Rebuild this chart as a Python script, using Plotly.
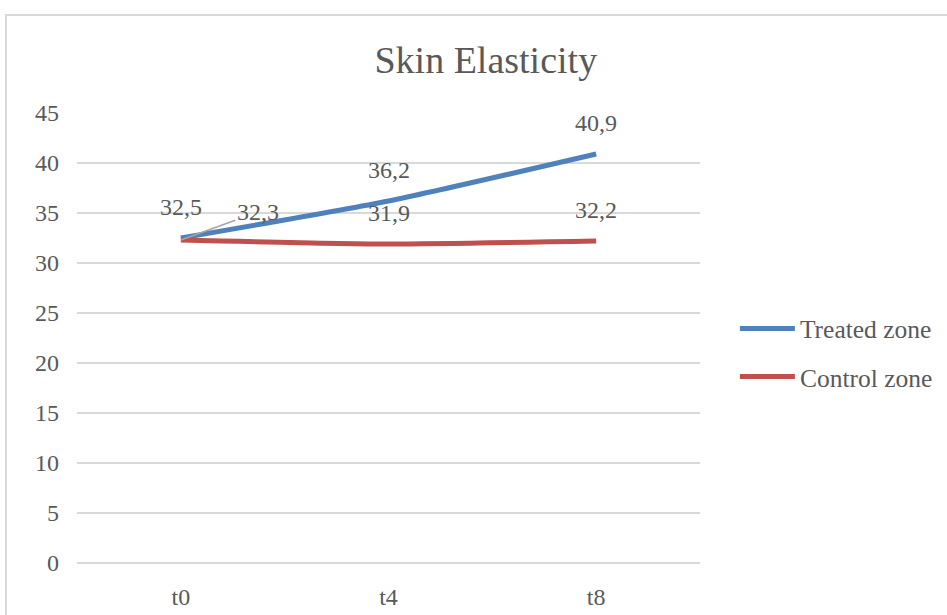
import plotly.graph_objects as go

categories = ["t0", "t4", "t8"]
treated = [32.5, 36.2, 40.9]
control = [32.3, 31.9, 32.2]
y_ticks = [0, 5, 10, 15, 20, 25, 30, 35, 40, 45]

BLUE = "#4F81BD"
RED = "#C0504D"
TXT = "#595959"
GRID = "#D9D9D9"
FONT = "Liberation Serif"


def fmt(v):
    return f"{v:.1f}".replace(".", ",")


fig = go.Figure()
fig.add_trace(go.Scatter(x=categories, y=treated, mode="lines", name="Treated zone",
                         line=dict(color=BLUE, width=5, shape="spline", smoothing=0.6),
                         legendgroup="a"))
fig.add_trace(go.Scatter(x=categories, y=control, mode="lines", name="Control zone",
                         line=dict(color=RED, width=5, shape="spline", smoothing=0.6),
                         legendgroup="b"))

annotations = []
for c, v in zip(categories, treated):
    annotations.append(dict(x=c, y=v, xref="x", yref="y", text=fmt(v), showarrow=False,
                            yshift=31, font=dict(family=FONT, size=24, color=TXT)))
for i, (c, v) in enumerate(zip(categories, control)):
    if i == 0:
        annotations.append(dict(x=c, y=v, xref="x", yref="y", text=fmt(v), showarrow=True,
                                ax=77, ay=-28, arrowhead=0, arrowwidth=1.5, arrowcolor="#A6A6A6",
                                standoff=0, font=dict(family=FONT, size=24, color=TXT)))
    else:
        annotations.append(dict(x=c, y=v, xref="x", yref="y", text=fmt(v), showarrow=False,
                                yshift=31, font=dict(family=FONT, size=24, color=TXT)))

fig.update_layout(
    width=947, height=615,
    margin=dict(l=77, r=247, t=113, b=52, autoexpand=False),
    paper_bgcolor="white", plot_bgcolor="white",
    font=dict(family=FONT, size=24, color=TXT),
    title=dict(text="Skin Elasticity", x=0.513, xanchor="center", y=1 - 60 / 615,
               yanchor="middle", font=dict(family=FONT, size=38, color=TXT)),
    xaxis=dict(range=[-0.5, 2.5], showgrid=False, showline=False, zeroline=False,
               automargin=False, ticks="",
               tickfont=dict(family=FONT, size=24, color=TXT), ticklabelstandoff=17),
    yaxis=dict(range=[0, 45], tickvals=y_ticks, showgrid=True, gridcolor=GRID, gridwidth=1.5,
               zeroline=True, zerolinecolor=GRID, zerolinewidth=1.5, showline=False, ticks="",
               automargin=False,
               tickfont=dict(family=FONT, size=24, color=TXT), ticklabelstandoff=17),
    legend=dict(x=1.056, y=0.467, xanchor="left", yanchor="middle", itemwidth=55,
                tracegroupgap=12, font=dict(family=FONT, size=25.5, color=TXT),
                bgcolor="rgba(0,0,0,0)"),
    annotations=annotations,
    shapes=[dict(type="rect", xref="paper", yref="paper", x0=(6 - 77) / 623, x1=1.6,
                 y0=-0.4, y1=(563 - 15) / 450, line=dict(color=GRID, width=2), layer="below")],
)

fig.write_html("out.html", config={"displayModeBar": False},
               post_script="document.body.style.margin='0';")
